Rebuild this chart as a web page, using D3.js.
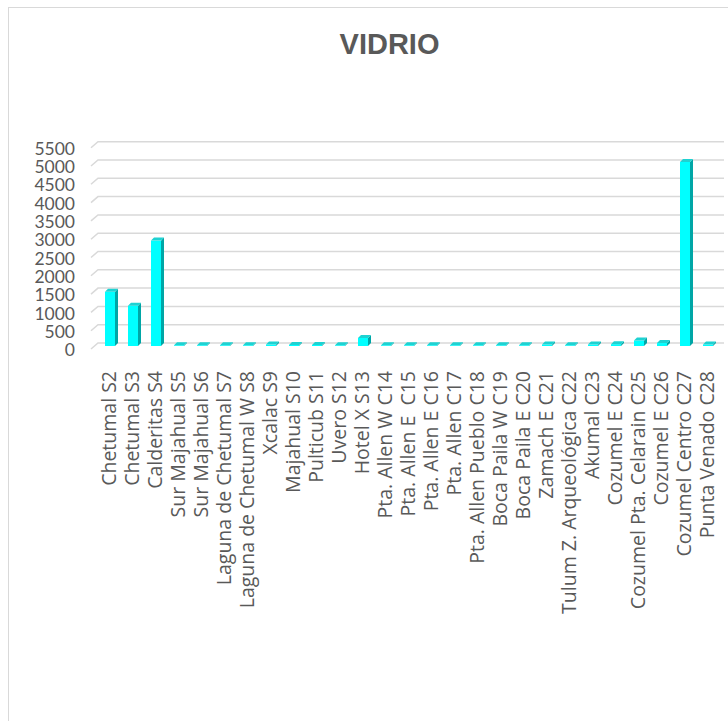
<!DOCTYPE html>
<html>
<head>
<meta charset="utf-8">
<script src="https://cdn.jsdelivr.net/npm/d3@7"></script>
<style>
  html, body { margin: 0; padding: 0; background: #fff; }
  svg { display: block; }
</style>
</head>
<body>
<svg id="chart" width="728" height="721"></svg>
<script>
const categories = [
  "Chetumal S2", "Chetumal S3", "Calderitas S4", "Sur Majahual S5", "Sur Majahual S6",
  "Laguna de Chetumal S7", "Laguna de Chetumal W S8", "Xcalac S9", "Majahual S10",
  "Pulticub S11", "Uvero S12", "Hotel X S13", "Pta. Allen W C14", "Pta. Allen E  C15",
  "Pta. Allen E C16", "Pta. Allen C17", "Pta. Allen Pueblo C18", "Boca Paila W C19",
  "Boca Paila E C20", "Zamach E C21", "Tulum Z. Arqueológica C22", "Akumal C23",
  "Cozumel E C24", "Cozumel Pta. Celarain C25", "Cozumel E C26", "Cozumel Centro C27",
  "Punta Venado C28"
];
const values = [
  1480, 1100, 2880, 20, 20,
  20, 20, 40, 30,
  30, 20, 220, 20, 20,
  20, 20, 20, 20,
  20, 40, 20, 40,
  50, 150, 80, 5030,
  40
];
const yTicks = [0, 500, 1000, 1500, 2000, 2500, 3000, 3500, 4000, 4500, 5000, 5500];
const title = "VIDRIO";

const svg = d3.select("#chart");
const textColor = "#595959";

// chart border (right/bottom edges fall outside the picture)
svg.append("rect")
  .attr("x", 8.5).attr("y", 7.5)
  .attr("width", 800).attr("height", 800)
  .attr("fill", "none").attr("stroke", "#d9d9d9").attr("stroke-width", 1);

// title
svg.append("text")
  .attr("x", 389.5).attr("y", 54)
  .attr("text-anchor", "middle")
  .attr("font-family", "'Liberation Sans', Arial, sans-serif")
  .attr("font-weight", "bold")
  .attr("font-size", 29)
  .attr("fill", textColor)
  .text(title);

const y = d3.scaleLinear().domain([0, 5500]).range([343, 141.7]);
const x = d3.scaleBand().domain(categories).range([98.5, 719.5]).paddingInner(0).paddingOuter(0);

const gridLeft = 98, gridRight = 724;
const depthX = 7, depthY = 6;

// gridlines (back wall + side floor diagonal)
const grid = svg.append("g");
grid.selectAll("path").data(yTicks).join("path")
  .attr("d", d => {
    const yy = y(d);
    return `M${gridLeft - depthX},${yy + depthY} L${gridLeft},${yy} L${gridRight},${yy}`;
  })
  .attr("fill", "none")
  .attr("stroke", "#d9d9d9")
  .attr("stroke-width", 1.5);

// y axis labels
const yAxis = d3.axisLeft(y).tickValues(yTicks).tickFormat(d3.format("d")).tickSize(0).tickPadding(0);
const yg = svg.append("g").attr("transform", `translate(75,${7})`).call(yAxis);
yg.select(".domain").remove();
yg.selectAll("text")
  .attr("font-family", "Lato, sans-serif")
  .attr("font-size", 17.5)
  .attr("fill", textColor);

// bars (pseudo 3D)
const bw = 10, d3x = 3, d3y = 3, off = 3;
const bars = svg.append("g");
categories.forEach((c, i) => {
  const v = values[i];
  const cx = x(c) + x.bandwidth() / 2;
  const x0 = cx - bw / 2;
  const base = y(0) + off;
  const top = y(v) + off;
  const g = bars.append("g");
  // side face
  g.append("path")
    .attr("d", `M${x0 + bw},${top} L${x0 + bw + d3x},${top - d3y} L${x0 + bw + d3x},${base - d3y} L${x0 + bw},${base} Z`)
    .attr("fill", "#00a6a6");
  // front face
  if (base - top > 0.5) {
    g.append("rect")
      .attr("x", x0).attr("y", top)
      .attr("width", bw).attr("height", base - top)
      .attr("fill", "#00ffff");
  }
  // top face
  g.append("path")
    .attr("d", `M${x0},${top} L${x0 + bw},${top} L${x0 + bw + d3x},${top - d3y} L${x0 + d3x},${top - d3y} Z`)
    .attr("fill", "#1ed2d2");
});

// category labels
const xg = svg.append("g");
xg.selectAll("text").data(categories).join("text")
  .attr("transform", d => `translate(${x(d) + x.bandwidth() / 2 - 1.5},371) rotate(-90)`)
  .attr("text-anchor", "end")
  .attr("dominant-baseline", "central")
  .attr("font-family", "'Open Sans', sans-serif")
  .attr("font-size", 19.5)
  .attr("fill", textColor)
  .attr("xml:space", "preserve")
  .style("white-space", "pre")
  .text(d => d);
</script>
</body>
</html>
